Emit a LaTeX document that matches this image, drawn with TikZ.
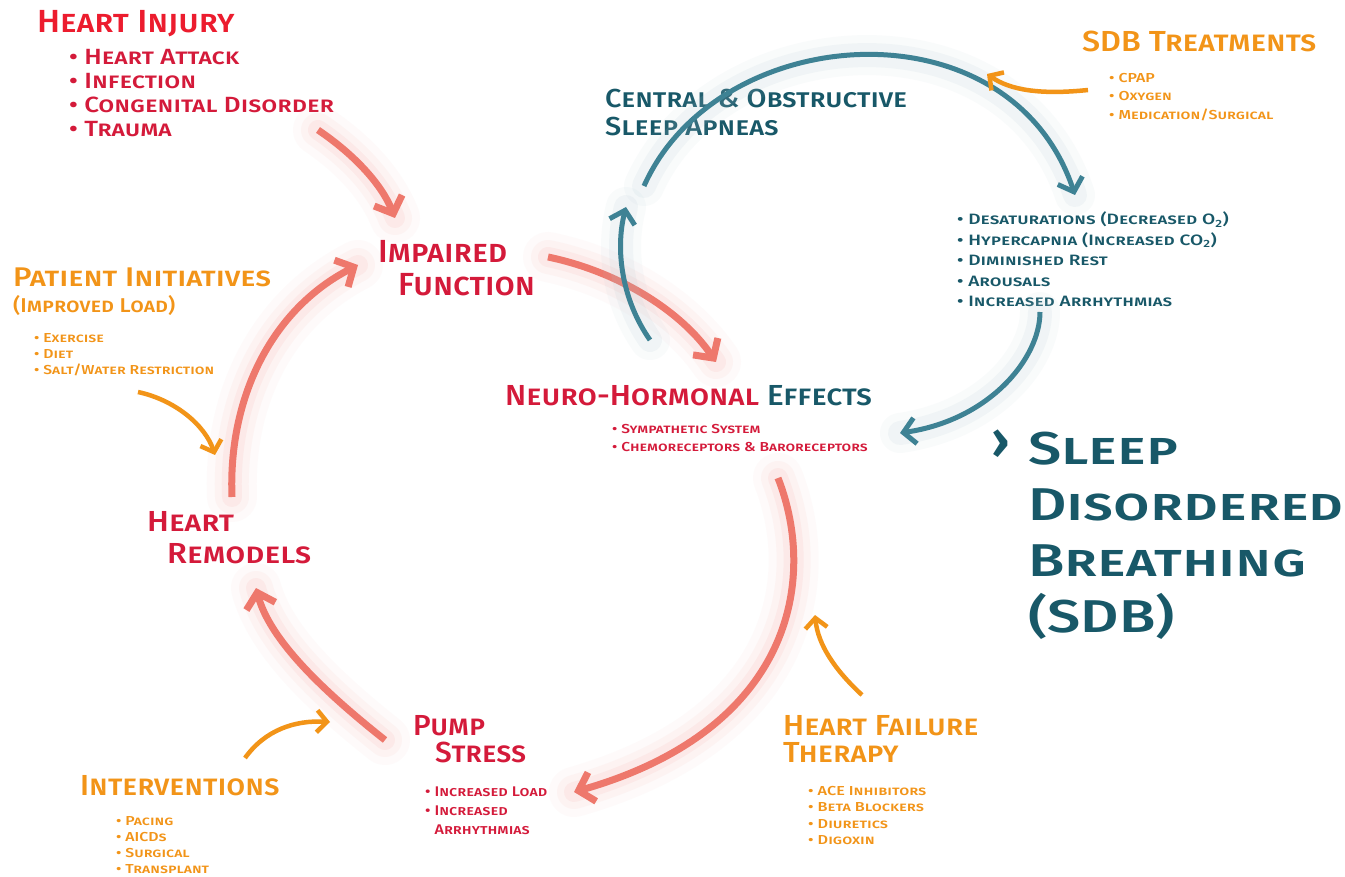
\documentclass[tikz,border=0pt]{standalone}
\usepackage{fontspec}
\setmainfont{Fira Sans}[UprightFont={* Medium}, BoldFont={* SemiBold}]
\usetikzlibrary{arrows.meta}

\definecolor{injred}{RGB}{236,28,46}
\definecolor{cyclered}{RGB}{212,26,58}
\definecolor{flowred}{RGB}{238,120,108}
\definecolor{glowred}{RGB}{246,165,160}
\definecolor{sdbteal}{RGB}{24,88,104}
\definecolor{flowteal}{RGB}{62,130,148}
\definecolor{glowteal}{RGB}{175,200,210}
\definecolor{therapy}{RGB}{242,148,24}

% size, baselineskip, stretch -- always in small caps
\newcommand\fs[3]{\fontsize{#1}{#2}\selectfont\addfontfeatures{FakeStretch=#3}\scshape}

\tikzset{
  lbl/.style={inner sep=0pt, align=left, anchor=north west},
  redflow/.style={draw=flowred, line width=7pt, -{Straight Barb[length=14pt,width=30pt]},
    preaction={draw=glowred, -, line width=50pt, opacity=.05, line cap=round},
    preaction={draw=glowred, -, line width=34pt, opacity=.08, line cap=round},
    preaction={draw=glowred, -, line width=20pt, opacity=.12, line cap=round}},
  tealflow/.style={draw=flowteal, line width=5pt, -{Straight Barb[length=12pt,width=26pt]},
    preaction={draw=glowteal, -, line width=40pt, opacity=.07, line cap=round},
    preaction={draw=glowteal, -, line width=24pt, opacity=.12, line cap=round}},
  therapyflow/.style={draw=therapy, line width=4.5pt, -{Straight Barb[length=10pt,width=22pt]}},
}

\begin{document}
\begin{tikzpicture}[x=1pt, y=-1pt]
\fill[white] (0,0) rectangle (1345,877);
\useasboundingbox (0,0) rectangle (1345,877);

% heart cycle
\node[lbl, text=injred, font=\fs{32}{32}{1.07}] (injury) at (37,10) {Heart Injury};
\node[lbl, text=cyclered, font=\fs{22}{24}{1.18}] (injury-list) at (69,49)
  {\textbullet\ Heart Attack\\ \textbullet\ Infection\\ \textbullet\ Congenital Disorder\\ \textbullet\ Trauma};
\node[lbl, text=cyclered, font=\fs{32}{33}{1.03}] (impaired) at (378,240) {Impaired\\\hspace{20pt}Function};
\node[lbl, text=cyclered, font=\fs{29}{29}{1.086}] (neuro) at (505,385) {Neuro-Hormonal \textcolor{sdbteal}{Effects}};
\node[lbl, text=cyclered, font=\fs{13}{18}{1.2}] (neuro-list) at (612,424)
  {\textbullet\ Sympathetic System\\ \textbullet\ Chemoreceptors \& Baroreceptors};
\node[lbl, text=cyclered, font=\fs{29}{27}{1.03}] (pump) at (413,715) {Pump\\\hspace{22pt}Stress};
\node[lbl, text=cyclered, font=\fs{14}{19}{1.15}] (pump-list) at (425,787)
  {\textbullet\ Increased Load\\ \textbullet\ Increased\\ \phantom{\textbullet\ }Arrhythmias};
\node[lbl, text=cyclered, font=\fs{29}{32}{1.12}] (remodels) at (147,511) {Heart\\\hspace{20pt}Remodels};

% treatments
\node[lbl, text=therapy, font=\fs{27}{27}{1.16}] (patient) at (13,268) {Patient Initiatives};
\node[lbl, anchor=base west, text=therapy, font=\fs{20}{20}{1.1}] (patient-sub) at (13,313) {(Improved Load)};
\node[lbl, text=therapy, font=\fs{13}{16}{1.21}] (patient-list) at (34,333)
  {\textbullet\ Exercise\\ \textbullet\ Diet\\ \textbullet\ Salt/Water Restriction};
\node[lbl, anchor=base west, text=therapy, font=\fs{29}{29}{1.06}] (interv) at (80,795) {Interventions};
\node[lbl, text=therapy, font=\fs{13}{16}{1.22}] (interv-list) at (116,816)
  {\textbullet\ Pacing\\ \textbullet\ AICDs\\ \textbullet\ Surgical\\ \textbullet\ Transplant};
\node[lbl, text=therapy, font=\fs{29}{27}{1.08}] (hf) at (783,715) {Heart Failure\\Therapy};
\node[lbl, text=therapy, font=\fs{13}{16.5}{1.25}] (hf-list) at (808,786)
  {\textbullet\ ACE Inhibitors\\ \textbullet\ Beta Blockers\\ \textbullet\ Diuretics\\ \textbullet\ Digoxin};
\node[lbl, anchor=base west, text=therapy, font=\fs{29}{29}{1.11}] (sdbtx) at (1082,52) {SDB Treatments};
\node[lbl, text=therapy, font=\fs{13}{18.5}{1.23}] (sdbtx-list) at (1109,73)
  {\textbullet\ CPAP\\ \textbullet\ Oxygen\\ \textbullet\ Medication/Surgical};

% breathing loop
\node[lbl, text=sdbteal, font=\fs{26}{28}{1.11}] (apnea) at (605,89) {Central \& Obstructive\\Sleep Apneas};
\node[lbl, text=sdbteal, font=\fs{15}{20.5}{1.27}] (apnea-list) at (957,212)
  {\textbullet\ Desaturations (Decreased O\textsubscript{2})\\ \textbullet\ Hypercapnia (Increased CO\textsubscript{2})\\
   \textbullet\ Diminished Rest\\ \textbullet\ Arousals\\ \textbullet\ Increased Arrhythmias};
\node[lbl, text=sdbteal, font=\fs{46}{56}{1.29}] (sdb) at (1028,432) {Sleep\\Disordered\\Breathing\\(SDB)};
\node[lbl, anchor=base east, text=sdbteal, font=\fs{52}{52}{1}\bfseries] (chev) at (1010,458) {›};

% arrow ends
\coordinate (injury-out) at (318,130);
\coordinate (impaired-in) at (395,218);
\coordinate (impaired-out) at (548,257);
\coordinate (neuro-in) at (716,362);
\coordinate (neuro-out) at (778,478);
\coordinate (pump-in) at (574,792);
\coordinate (pump-out) at (385,740);
\coordinate (remodels-in) at (256,588);
\coordinate (remodels-out) at (232,497);
\coordinate (impaired-left) at (358,265);
\coordinate (apnea-up) at (650,340);
\coordinate (apnea-in) at (626,207);
\coordinate (apnea-out) at (644,186);
\coordinate (apnea-list-in) at (1075,195);
\coordinate (apnea-list-out) at (1040,312);
\coordinate (neuro-right) at (900,433);

% heart cycle arrows
\draw[redflow] (injury-out) .. controls (355,155) and (382,185) .. (impaired-in);
\draw[redflow] (impaired-out) .. controls (620,272) and (682,312) .. (neuro-in);
\draw[redflow] (neuro-out) .. controls (818,580) and (792,730) .. (pump-in);
\draw[redflow] (pump-out) .. controls (322,690) and (270,640) .. (remodels-in);
\draw[redflow] (remodels-out) .. controls (228,400) and (270,310) .. (impaired-left);

% breathing loop arrows
\draw[tealflow] (apnea-up) .. controls (622,300) and (615,250) .. (apnea-in);
\draw[tealflow] (apnea-out) .. controls (718,20) and (1010,0) .. (apnea-list-in);
\draw[tealflow] (apnea-list-out) .. controls (1040,358) and (990,420) .. (neuro-right);

% treatment arrows
\coordinate (sdbtx-tail) at (1088,90);
\coordinate (sdbtx-tip) at (987,74);
\coordinate (patient-tail) at (138,392);
\coordinate (patient-tip) at (215,455);
\coordinate (interv-tail) at (245,758);
\coordinate (interv-tip) at (330,722);
\coordinate (hf-tail) at (862,695);
\coordinate (hf-tip) at (815,615);
\draw[therapyflow] (sdbtx-tail) .. controls (1040,95) and (1010,90) .. (sdbtx-tip);
\draw[therapyflow] (patient-tail) .. controls (175,400) and (205,425) .. (patient-tip);
\draw[therapyflow] (interv-tail) .. controls (265,730) and (295,720) .. (interv-tip);
\draw[therapyflow] (hf-tail) .. controls (835,670) and (818,645) .. (hf-tip);
\end{tikzpicture}
\end{document}
